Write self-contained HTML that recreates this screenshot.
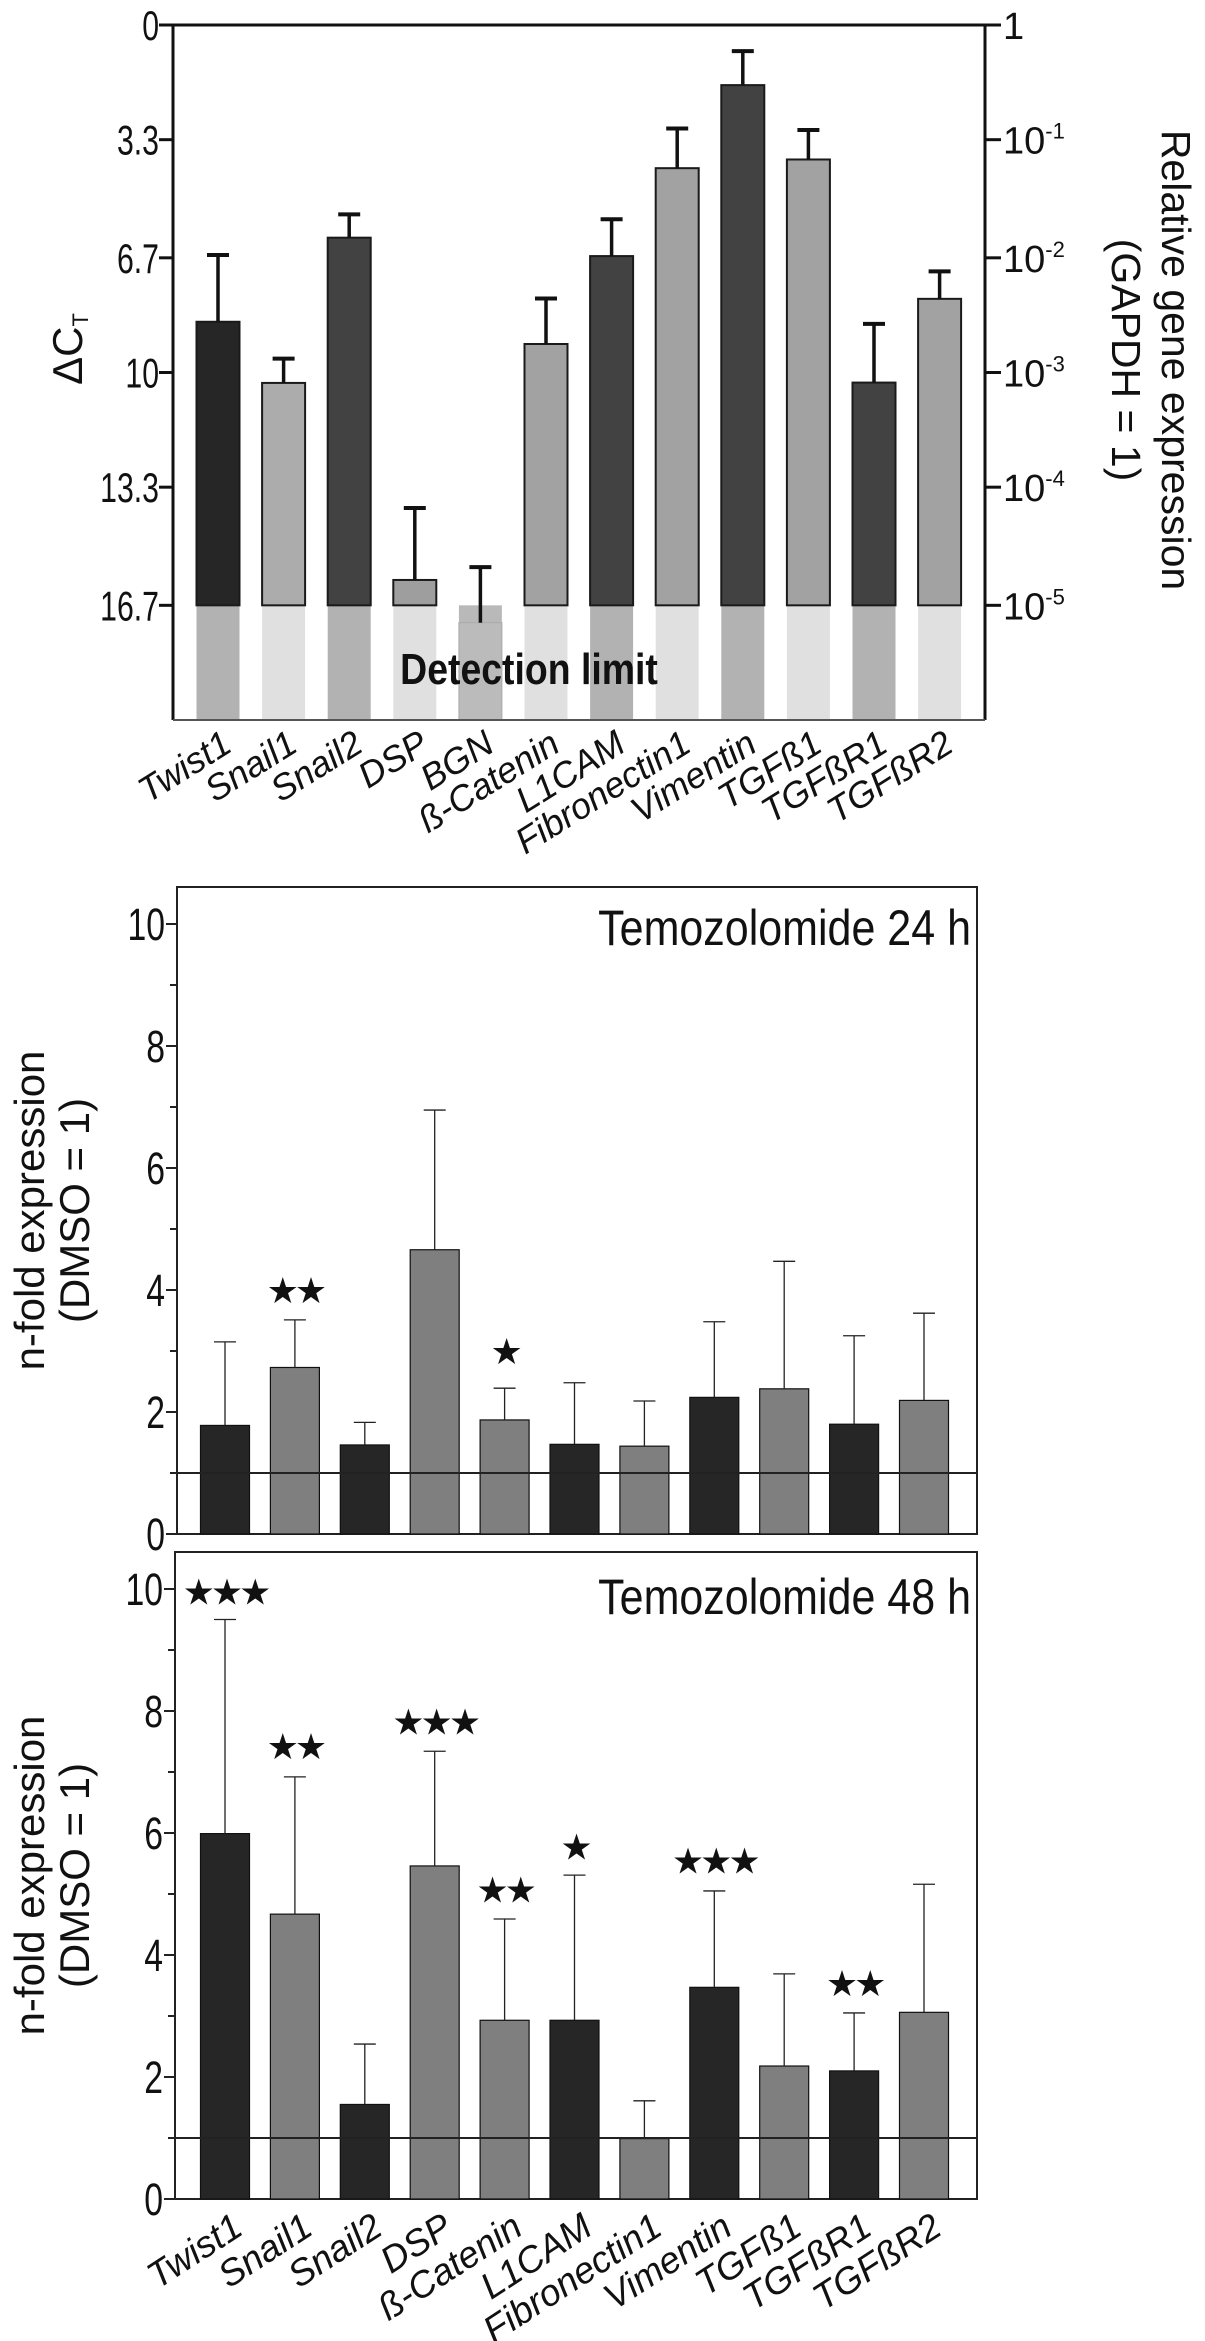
<!DOCTYPE html>
<html><head><meta charset="utf-8"><style>
html,body{margin:0;padding:0;background:#fff;}
svg{display:block;font-family:"Liberation Sans",sans-serif;}
</style></head><body>
<svg id="fig" width="1205" height="2341" viewBox="0 0 1205 2341" xmlns="http://www.w3.org/2000/svg">
<g id="top"></g>
<g id="mid"></g>
<g id="bot"></g>
</svg>
<script>
const NS="http://www.w3.org/2000/svg";
const genesTop=["Twist1","Snail1","Snail2","DSP","BGN","ß-Catenin","L1CAM","Fibronectin1","Vimentin","TGFß1","TGFßR1","TGFßR2"];
const dctValues=[8.54,10.3,6.12,15.97,17.2,9.18,6.65,4.12,1.73,3.87,10.29,7.88];
const dctErrTop=[6.62,9.6,5.45,13.9,15.6,7.87,5.59,2.98,0.75,3.02,8.6,7.09];
const dctTicks=[0,3.3,6.7,10,13.3,16.7];
const dctTickLabels=["0","3.3","6.7","10","13.3","16.7"];
const relExpLabels=["1","10","10","10","10","10"];
const relExpSup=["","-1","-2","-3","-4","-5"];
const detectionLimit=16.7;

const genes=["Twist1","Snail1","Snail2","DSP","ß-Catenin","L1CAM","Fibronectin1","Vimentin","TGFß1","TGFßR1","TGFßR2"];
const fold24=[1.78,2.73,1.46,4.66,1.87,1.47,1.44,2.24,2.38,1.80,2.19];
const err24=[3.15,3.51,1.83,6.95,2.39,2.48,2.18,3.48,4.47,3.25,3.62];
const stars24=["","★★","","","★","","","","","",""];
const starY24=[0,4.0,0,0,3.0,0,0,0,0,0,0];
const fold48=[5.99,4.67,1.55,5.46,2.93,2.93,0.99,3.47,2.18,2.10,3.06];
const err48=[9.50,6.92,2.54,7.34,4.59,5.31,1.61,5.05,3.69,3.05,5.16];
const stars48=["★★★","★★","","★★★","★★","★","","★★★","","★★",""];
const starY48=[9.96,7.43,0,7.83,5.07,5.78,0,5.55,0,3.54,0];
const foldTicks=[0,2,4,6,8,10];
const foldMinor=[1,3,5,7,9];
const foldCols=["#262626","#7f7f7f","#262626","#7f7f7f","#7f7f7f","#262626","#7f7f7f","#262626","#7f7f7f","#262626","#7f7f7f"];

function el(parent,tag,attrs,text){const e=document.createElementNS(NS,tag);for(const k in attrs)e.setAttribute(k,attrs[k]);if(text!==undefined)e.textContent=text;parent.appendChild(e);return e;}

/* ---------- top chart ---------- */
(function(){
const g=document.getElementById('top');
const L=173,R=985,T=25,B=720;
const y=v=>T+(v/20)*(B-T);
const cx=i=>218+i*65.6;
const bw=43;
const topCols=["#262626","#acacac","#424242","#9e9e9e","#bbbbbb","#a2a2a2","#424242","#a2a2a2","#424242","#a2a2a2","#424242","#a2a2a2"];
const bandCols=["#b2b2b2","#e0e0e0","#b2b2b2","#e0e0e0","#b9b9b9","#e0e0e0","#b2b2b2","#e0e0e0","#b2b2b2","#e0e0e0","#b2b2b2","#e0e0e0"];
genesTop.forEach((n,i)=>{
  const x=cx(i)-bw/2;
  let r=el(g,'rect',{x:x,y:y(detectionLimit),width:bw,height:B-y(detectionLimit),fill:bandCols[i]});
  
  
  const v=dctValues[i];
  if(v<detectionLimit){
    let b=el(g,'rect',{x:x,y:y(v),width:bw,height:y(detectionLimit)-y(v),fill:topCols[i],stroke:'#1a1a1a','stroke-width':2});
    
    
  } else {
    let b=el(g,'rect',{x:x,y:y(v),width:bw,height:B-y(v),fill:topCols[i],stroke:'#aaaaaa','stroke-width':1});
    
    
  }
  const eg=el(g,'g',{stroke:'#111','stroke-width':3.5});
  
  
  el(eg,'line',{x1:cx(i),x2:cx(i),y1:y(v),y2:y(dctErrTop[i])});
  el(eg,'line',{x1:cx(i)-11,x2:cx(i)+11,y1:y(dctErrTop[i]),y2:y(dctErrTop[i]),'stroke-width':4});
  const lab=el(g,'text',{transform:`translate(${cx(i)+16},${B+30}) rotate(-32)`,'text-anchor':'end','font-size':36,'font-style':'italic',fill:'#111'},n);
  
  
});
const ax=el(g,'g',{stroke:'#111','stroke-width':3,fill:'none'});


el(ax,'line',{x1:L-12,x2:R+12,y1:T,y2:T});
el(ax,'line',{x1:L,x2:L,y1:T,y2:B});
el(ax,'line',{x1:R,x2:R,y1:T,y2:B});
el(ax,'line',{x1:L,x2:R,y1:B,y2:B,'stroke-width':2,stroke:'#555'});
dctTicks.forEach((t,i)=>{
  el(ax,'line',{x1:L-14,x2:L,y1:y(t),y2:y(t)});
  el(ax,'line',{x1:R,x2:R+16,y1:y(t),y2:y(t)});
  const tl=el(g,'text',{transform:`translate(${L-14},${y(t)+15}) scale(0.72,1)`,'text-anchor':'end','font-size':42,fill:'#111'},dctTickLabels[i]);
  
  
  const rt=el(g,'text',{x:R+18,y:y(t)+14,'font-size':38,fill:'#111'});
  
  
  el(rt,'tspan',{},relExpLabels[i]);
  if(relExpSup[i]) el(rt,'tspan',{dy:-15,'font-size':22},relExpSup[i]);
});
})();

/* ---------- fold charts ---------- */
function foldChart(gid,L,R,T,B,y10,vals,errs,stars,starYs,title,titleY,labels){
  const g=document.getElementById(gid);
  const y0=B;const pu=(y0-y10)/10;
  const y=v=>y0-v*pu;
  const cx=i=>225+i*69.9;
  const bw=49;
  const frame=el(g,'rect',{x:L,y:T,width:R-L,height:B-T,fill:'none',stroke:'#222','stroke-width':2});
  
  
  vals.forEach((v,i)=>{
    const b=el(g,'rect',{x:cx(i)-bw/2,y:y(v),width:bw,height:y0-y(v),fill:foldCols[i],stroke:'#111','stroke-width':1.2});
    
    
    const eg=el(g,'g',{stroke:'#222','stroke-width':1.3});
    
    
    el(eg,'line',{x1:cx(i),x2:cx(i),y1:y(v),y2:y(errs[i])});
    el(eg,'line',{x1:cx(i)-11,x2:cx(i)+11,y1:y(errs[i]),y2:y(errs[i])});
    if(stars[i]){
      const s=el(g,'text',{x:cx(i),y:y(starYs[i])+13,'text-anchor':'middle','font-size':36,'letter-spacing':-4,fill:'#111',
        'font-family':'"DejaVu Sans",sans-serif'},stars[i]);
      
      
    }
  });
  const bl=el(g,'line',{x1:L,x2:R,y1:y(1),y2:y(1),stroke:'#222','stroke-width':2});
  
  
  foldTicks.forEach(t=>{
    el(g,'line',{x1:L-11,x2:L,y1:y(t),y2:y(t),stroke:'#222','stroke-width':2});
    const tl=el(g,'text',{transform:`translate(${L-12},${y(t)+16}) scale(0.75,1)`,'text-anchor':'end','font-size':45,fill:'#111'},String(t));
    
    
  });
  foldMinor.forEach(t=>{el(g,'line',{x1:L-7,x2:L,y1:y(t),y2:y(t),stroke:'#222','stroke-width':2});});
  const tt=el(g,'text',{transform:`translate(${R-6},${titleY+4}) scale(0.86,1)`,'text-anchor':'end','font-size':50,fill:'#111'},title);
  
  
  const mid=(T+B)/2;
  const yl=el(g,'text',{transform:`translate(44,${mid}) rotate(-90)`,'text-anchor':'middle','font-size':42,fill:'#111'},'n-fold expression');
  
  
  const yl2=el(g,'text',{transform:`translate(89,${mid}) rotate(-90)`,'text-anchor':'middle','font-size':42,fill:'#111'},'(DMSO = 1)');
  
  
  if(labels){
    genes.forEach((n,i)=>{
      const lab=el(g,'text',{transform:`translate(${cx(i)+20},${B+34}) rotate(-33)`,'text-anchor':'end','font-size':37,'font-style':'italic',fill:'#111'},n);
      
      
    });
  }
}
foldChart('mid',177,977,887,1534,924,fold24,err24,stars24,starY24,'Temozolomide 24 h',941,false);
foldChart('bot',175,977,1552,2199,1589,fold48,err48,stars48,starY48,'Temozolomide 48 h',1610,true);

/* top chart static labels */
(function(){
const g=document.getElementById('top');
const d=el(g,'text',{transform:'translate(529,684) scale(0.85,1)','text-anchor':'middle','font-size':44,'font-weight':'bold',fill:'#111'},'Detection limit');


const yl=el(g,'text',{transform:'translate(82,349) rotate(-90)','text-anchor':'middle','font-size':42,fill:'#111'});


el(yl,'tspan',{},'ΔC');
el(yl,'tspan',{dy:6,'font-size':22},'T');
const r1=el(g,'text',{transform:'translate(1162,360) rotate(90)','text-anchor':'middle','font-size':41,fill:'#111'},'Relative gene expression');


const r2=el(g,'text',{transform:'translate(1112,360) rotate(90)','text-anchor':'middle','font-size':41,fill:'#111'},'(GAPDH = 1)');


})();
</script>
</body></html>
